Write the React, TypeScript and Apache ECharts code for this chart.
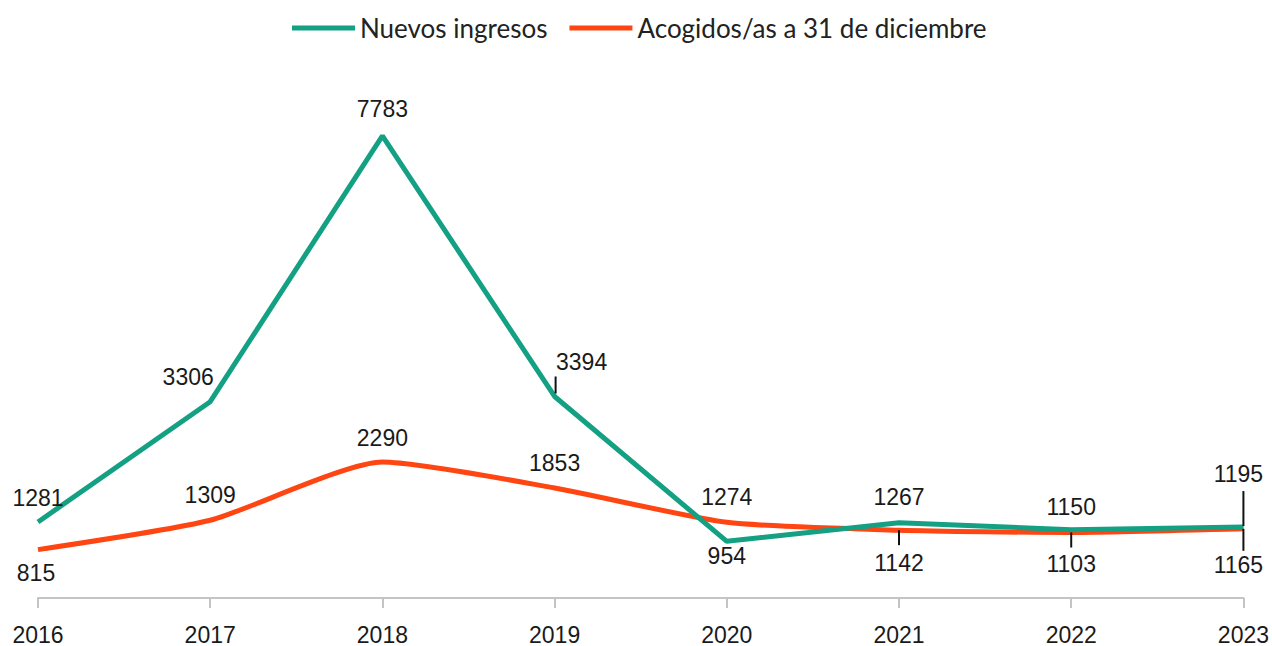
import React, { useEffect, useRef } from "react";
import * as echarts from "echarts";

const years = ["2016", "2017", "2018", "2019", "2020", "2021", "2022", "2023"];
const nuevosIngresos = [1281, 3306, 7783, 3394, 954, 1267, 1150, 1195];
const acogidos = [815, 1309, 2290, 1853, 1274, 1142, 1103, 1165];

// label offsets (px) relative to each point
const greenLabelOffsets = [[0, -24], [-22, -25], [0, -27], [27, -34], [0, 15], [0, -26], [0, -23], [-5, -53]];
const redLabelOffsets = [[-2, 23], [0, -25], [0, -24], [0, -25], [0, -25], [0, 33], [0, 31], [-5, 36]];

// leader lines: series, index, pixel span
const leaders = [
  { s: "g", i: 3, d: [-20, -3], dx: 1 },
  { s: "r", i: 5, d: [0, 15], dx: 0 },
  { s: "r", i: 6, d: [0, 15], dx: 0 },
  { s: "g", i: 7, d: [-36, -1], dx: 0 },
  { s: "r", i: 7, d: [0, 22], dx: 0 },
];

const GREEN = "#14A083";
const RED = "#FF4512";

export default function App() {
  const ref = useRef<HTMLDivElement>(null);
  useEffect(() => {
    const chart = echarts.init(ref.current!, null, { renderer: "svg" });
    const labelFont = { fontFamily: "Liberation Sans, Arial, sans-serif", fontSize: 23, color: "#1a1a1a" };
    chart.setOption({
      animation: false,
      legend: {
        top: 10,
        left: 287,
        icon: "rect",
        itemWidth: 63,
        itemHeight: 5,
        itemGap: 22,
        textStyle: { fontFamily: "Lato, sans-serif", fontSize: 26, color: "#222" },
        data: ["Nuevos ingresos", "Acogidos/as a 31 de diciembre"],
      },
      grid: { left: 38, right: 27, top: 123, bottom: 46 },
      xAxis: {
        type: "category",
        data: years,
        boundaryGap: false,
        axisLine: { lineStyle: { color: "#c4c4c4", width: 2 } },
        axisTick: { show: true, length: 10, lineStyle: { color: "#c4c4c4", width: 2 } },
        axisLabel: { ...labelFont, margin: 25 },
      },
      yAxis: { type: "value", min: 0, max: 8000, show: false, splitLine: { show: false } },
      series: [
        {
          name: "Nuevos ingresos",
          type: "line",
          symbol: "circle",
          symbolSize: 0.01,
          showSymbol: true,
          lineStyle: { color: GREEN, width: 5 },
          itemStyle: { color: GREEN },
          z: 3,
          label: { show: true, position: "inside", ...labelFont },
          data: nuevosIngresos.map((v, i) => ({ value: v, label: { offset: greenLabelOffsets[i] } })),
        },
        {
          name: "Acogidos/as a 31 de diciembre",
          type: "line",
          symbol: "circle",
          symbolSize: 0.01,
          showSymbol: true,
          smooth: 0.2,
          lineStyle: { color: RED, width: 5 },
          itemStyle: { color: RED },
          z: 2,
          label: { show: true, position: "inside", ...labelFont },
          data: acogidos.map((v, i) => ({ value: v, label: { offset: redLabelOffsets[i] } })),
        },
        {
          type: "custom",
          silent: true,
          z: 5,
          data: leaders.map((l) => [l.i, l.s === "g" ? nuevosIngresos[l.i] : acogidos[l.i], l.d[0], l.d[1], l.dx]),
          renderItem: (params: any, api: any) => {
            const p = api.coord([api.value(0), api.value(1)]);
            const x = p[0] + api.value(4);
            return {
              type: "line",
              shape: { x1: x, y1: p[1] + api.value(2), x2: x, y2: p[1] + api.value(3) },
              style: { stroke: "#111", lineWidth: 2 },
            };
          },
        },
      ],
    });
    return () => chart.dispose();
  }, []);
  return <div ref={ref} style={{ width: 1272, height: 646, position: "absolute", left: 0, top: 0 }} />;
}
